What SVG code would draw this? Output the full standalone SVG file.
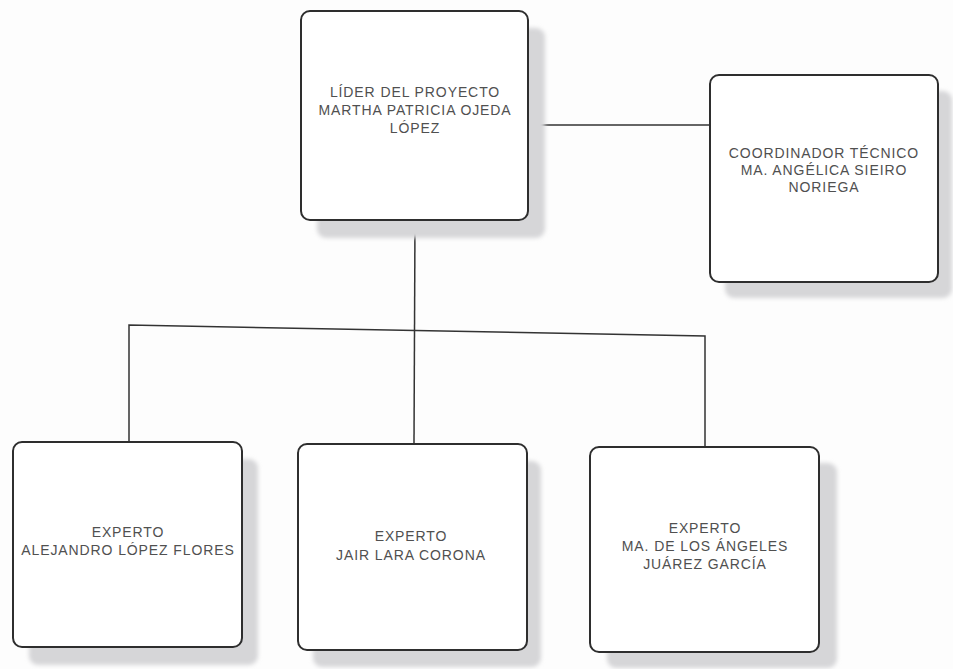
<svg xmlns="http://www.w3.org/2000/svg" width="953" height="669" viewBox="0 0 953 669">
<defs>
<filter id="soft" x="-10%" y="-10%" width="120%" height="120%"><feGaussianBlur stdDeviation="2"/></filter>
<style>
.shadow{fill:#d6d6d8;filter:url(#soft)}
.box{fill:#ffffff;stroke:#2e2e2e;stroke-width:2}
.lbl{font-family:"Liberation Sans",Arial,sans-serif;font-size:14px;letter-spacing:0.9px;fill:#505050;text-anchor:middle}
.con{fill:none;stroke:#333333;stroke-width:1.5}
</style>
</defs>
<rect x="0" y="0" width="953" height="669" fill="#fdfdfd"/>
<g id="connectors">
<line class="con" x1="528" y1="125" x2="710" y2="125"/>
<line class="con" x1="415" y1="220" x2="414" y2="444"/>
<polyline class="con" points="129,443 129,325 705,336 705,447"/>
</g>
<g id="lider">
<rect class="shadow" x="317" y="28" width="228" height="210" rx="9"/>
<rect class="box" x="301" y="11" width="227" height="209" rx="9"/>
<text class="lbl" x="415" y="97">LÍDER DEL PROYECTO</text>
<text class="lbl" x="415" y="115">MARTHA PATRICIA OJEDA</text>
<text class="lbl" x="415" y="133">LÓPEZ</text>
</g>
<g id="coordinador">
<rect class="shadow" x="725" y="91" width="227" height="207" rx="9"/>
<rect class="box" x="710" y="75" width="228" height="207" rx="9"/>
<text class="lbl" x="824" y="158">COORDINADOR TÉCNICO</text>
<text class="lbl" x="824" y="175">MA. ANGÉLICA SIEIRO</text>
<text class="lbl" x="824" y="192">NORIEGA</text>
</g>
<g id="experto1">
<rect class="shadow" x="29" y="459" width="229" height="206" rx="9"/>
<rect class="box" x="13" y="442" width="229" height="205" rx="9"/>
<text class="lbl" x="128" y="537">EXPERTO</text>
<text class="lbl" x="128" y="555">ALEJANDRO LÓPEZ FLORES</text>
</g>
<g id="experto2">
<rect class="shadow" x="313" y="461" width="228" height="206" rx="9"/>
<rect class="box" x="298" y="444" width="229" height="206" rx="9"/>
<text class="lbl" x="411" y="541">EXPERTO</text>
<text class="lbl" x="411" y="560">JAIR LARA CORONA</text>
</g>
<g id="experto3">
<rect class="shadow" x="607" y="463" width="230" height="205" rx="9"/>
<rect class="box" x="590" y="447" width="229" height="205" rx="9"/>
<text class="lbl" x="705" y="533">EXPERTO</text>
<text class="lbl" x="705" y="551">MA. DE LOS ÁNGELES</text>
<text class="lbl" x="705" y="569">JUÁREZ GARCÍA</text>
</g>
</svg>
